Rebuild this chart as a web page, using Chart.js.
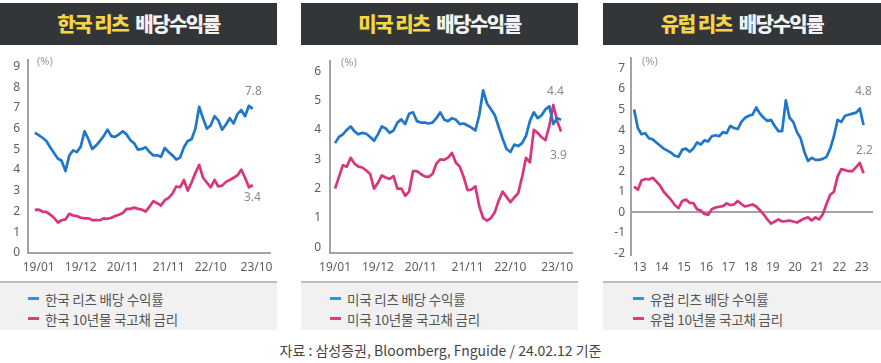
<!DOCTYPE html>
<html><head><meta charset="utf-8">
<script src="https://cdn.jsdelivr.net/npm/chart.js@4.4.1/dist/chart.umd.min.js"></script>
<style>
html,body{margin:0;padding:0;background:#fff;width:881px;height:363px;overflow:hidden;position:relative;font-family:"Noto Sans CJK KR","Noto Sans",sans-serif;}
.hdr{position:absolute;top:3px;height:42px;background:#323638;color:#f2f2f2;font-weight:900;font-size:20px;letter-spacing:-1.5px;text-align:center;line-height:42px;}
.hdr .y{color:#f3d545;margin-right:4px;}
.lg{position:absolute;top:281px;height:47px;background:#f1f1f1;border-top:2px solid #bdbdbd;}
.lgi{position:absolute;font-size:13.5px;color:#555;letter-spacing:-0.2px;white-space:nowrap;line-height:16px;}
.lgi i{position:absolute;left:-17px;top:6px;width:11px;height:3px;}
canvas{position:absolute;}
.pct{position:absolute;font-size:11px;color:#9a9a9a;font-family:"Noto Sans",sans-serif;}
.val{position:absolute;font-size:12px;color:#8a8a8a;font-family:"Noto Sans",sans-serif;}
.src{position:absolute;top:340px;left:0;width:881px;text-align:center;font-size:14px;color:#444;}
</style></head>
<body>
<div class="hdr" style="left:0;width:277px"><span class="y">한국 리츠</span> 배당수익률</div>
<div class="hdr" style="left:301px;width:277px"><span class="y">미국 리츠</span> 배당수익률</div>
<div class="hdr" style="left:603px;width:278px"><span class="y">유럽 리츠</span> 배당수익률</div>

<div class="lg" style="left:0;width:277px" id="lg1"></div>
<div class="lg" style="left:301px;width:277px" id="lg2"></div>
<div class="lg" style="left:603px;width:278px" id="lg3"></div>

<canvas id="c1" width="280" height="235" style="left:0;top:45px"></canvas>
<canvas id="c2" width="280" height="235" style="left:301px;top:45px"></canvas>
<canvas id="c3" width="278" height="235" style="left:603px;top:45px"></canvas>

<div class="pct" style="left:37px;top:53px">(%)</div>
<div class="pct" style="left:341px;top:54px">(%)</div>
<div class="pct" style="left:642px;top:53px">(%)</div>

<div class="val" style="left:245px;top:82px">7.8</div>
<div class="val" style="left:244px;top:188px">3.4</div>
<div class="val" style="left:547px;top:82px">4.4</div>
<div class="val" style="left:550px;top:146px">3.9</div>
<div class="val" style="left:855px;top:82px">4.8</div>
<div class="val" style="left:856px;top:141px">2.2</div>

<div class="src">자료 : 삼성증권, Bloomberg, Fnguide / 24.02.12 기준</div>

<script>
// ---------- DATA ----------
// Korea: monthly, first point = 2018/12 (month index 0)
const krNames = ['한국 리츠 배당 수익률', '한국 10년물 국고채 금리'];
const krReit = [5.8,5.69,5.56,5.4,5.1,4.82,4.56,4.45,3.95,4.7,4.95,4.87,5.13,5.87,5.49,5.02,5.18,5.4,5.64,5.95,5.64,5.6,5.72,5.87,5.72,5.44,5.29,4.98,5.02,5.1,4.87,4.71,4.71,4.64,5.07,4.87,4.71,4.51,4.6,5.1,5.4,5.49,6.0,7.05,6.5,6.0,6.15,6.6,6.4,5.95,6.2,6.5,6.25,6.7,6.9,6.6,7.1,6.95];
const krBond = [2.08,2.09,2.0,1.98,1.85,1.7,1.47,1.58,1.62,1.89,1.81,1.78,1.7,1.67,1.67,1.59,1.59,1.58,1.67,1.65,1.7,1.78,1.85,1.93,2.13,2.13,2.19,2.13,2.09,2.0,2.24,2.5,2.4,2.29,2.55,2.66,2.86,3.21,3.17,3.52,3.01,3.4,3.86,4.25,3.63,3.4,3.17,3.52,3.21,3.25,3.43,3.52,3.63,3.74,4.02,3.63,3.17,3.28];
const krStart = 0;
// US: monthly, first point = 2019/01 (month index 1)
const usNames = ['미국 리츠 배당 수익률', '미국 10년물 국고채 금리'];
const usReit = [3.55,3.76,3.85,4.0,4.12,3.95,3.85,3.9,3.87,3.76,3.63,3.85,4.12,4.05,3.9,3.98,4.25,4.36,4.2,4.55,4.6,4.3,4.25,4.25,4.22,4.25,4.4,4.6,4.35,4.3,4.4,4.35,4.2,4.22,4.15,4.08,3.98,4.5,5.35,4.9,4.7,4.5,4.1,3.7,3.35,3.25,3.5,3.45,3.55,3.8,4.3,4.6,4.4,4.5,4.7,4.8,4.2,4.4,4.35];
const usBond = [2.0,2.4,2.8,2.75,3.05,2.85,2.75,2.72,2.62,2.5,2.0,2.2,2.45,2.38,2.33,2.43,2.0,2.0,1.76,1.9,2.6,2.6,2.5,2.42,2.4,2.5,2.85,3.0,2.98,3.06,3.22,2.88,2.75,2.4,1.95,1.97,2.08,1.4,1.0,0.91,1.0,1.2,1.6,1.9,1.72,1.54,1.7,1.85,2.4,3.05,2.9,4.0,3.9,3.75,3.65,4.15,4.85,4.3,3.95];
const usStart = 1;
// month-index ticks for Korea / US
const monthTickPos = [1, 12, 23, 35, 46, 58];
const monthTickLabels = ['19/01', '19/12', '20/11', '21/11', '22/10', '23/10'];
// Europe: every 2 months starting 2012.75 (x in years since 2000)
const euNames = ['유럽 리츠 배당 수익률', '유럽 10년물 국고채 금리'];
const euReit = [5.0,4.1,3.8,3.85,3.6,3.55,3.4,3.25,3.1,3.0,2.9,2.75,2.7,3.05,3.1,2.95,3.1,3.4,3.3,3.5,3.45,3.7,3.75,3.7,3.9,3.85,4.2,4.1,4.05,4.4,4.6,4.7,4.75,5.1,4.8,4.6,4.45,4.5,4.2,3.95,3.95,5.45,4.6,4.4,3.9,3.6,2.95,2.5,2.65,2.55,2.55,2.6,2.7,3.1,3.7,4.5,4.4,4.7,4.75,4.8,4.85,5.05,4.25];
const euBond = [1.25,1.1,1.55,1.62,1.6,1.68,1.5,1.3,1.0,0.8,0.6,0.35,0.2,0.55,0.62,0.46,0.45,0.15,0.08,-0.08,-0.12,0.15,0.23,0.27,0.3,0.43,0.35,0.38,0.55,0.4,0.28,0.33,0.38,0.28,0.1,-0.1,-0.35,-0.55,-0.45,-0.35,-0.45,-0.43,-0.4,-0.45,-0.5,-0.4,-0.3,-0.25,-0.4,-0.25,-0.35,-0.1,0.4,0.85,1.0,1.75,2.1,2.05,2.0,2.0,2.2,2.4,1.9];
const euStart = 12.75, euStep = 1/6;
const yearTickPos = [13,14,15,16,17,18,19,20,21,22,23];
const yearTickLabels = ['13','14','15','16','17','18','19','20','21','22','23'];

const krYTicks = [0,1,2,3,4,5,6,7,8,9];
const usYTicks = [0,1,2,3,4,5,6];
const euYTicks = [-2,-1,0,1,2,3,4,5,6,7];

// ---------- STYLE ----------
const BLUE = '#1f77c9', PINK = '#d8357c';
const AXIS = '#a3a3a3';
const tickFont = {family: '"Noto Sans", sans-serif', size: 12};
const TICKCOL = '#5e5e5e';

function pts(vals, start, step) {
  return vals.map((v, i) => ({x: start + i * step, y: v}));
}

function panel(id, o) {
  return new Chart(document.getElementById(id), {
    type: 'line',
    data: {
      datasets: [
        {label: o.names[0], data: pts(o.s1, o.start, o.step), borderColor: BLUE, borderWidth: 2.7, pointRadius: 0, tension: 0, borderJoinStyle: 'round'},
        {label: o.names[1], data: pts(o.s2, o.start, o.step), borderColor: PINK, borderWidth: 2.7, pointRadius: 0, tension: 0, borderJoinStyle: 'round'}
      ]
    },
    options: {
      responsive: false, animation: false, devicePixelRatio: 1,
      layout: {padding: {top: o.padTop, right: o.padRight, left: 0, bottom: 0}},
      plugins: {legend: {display: false}, tooltip: {enabled: false}},
      scales: {
        x: {
          type: 'linear', min: o.xmin, max: o.xmax,
          grid: {display: false, drawTicks: false},
          border: {display: o.xBorder, color: AXIS, width: 2},
          afterBuildTicks: (ax) => { ax.ticks = o.xTickPos.map(v => ({value: v})); },
          afterFit: (ax) => { ax.height = o.xHeight; },
          ticks: {autoSkip: false, maxRotation: 0, padding: o.xPad, color: TICKCOL, font: tickFont,
                  callback: (v) => o.xTickLabels[o.xTickPos.indexOf(v)]}
        },
        y: {
          min: o.ymin, max: o.ymax,
          grid: o.zeroLine ? {display: true, drawTicks: false, lineWidth: 2,
                  color: (c) => (c.tick && c.tick.value === 0) ? '#a3a3a3' : 'rgba(0,0,0,0)'}
                : {display: false, drawTicks: false},
          border: {display: true, color: AXIS, width: 2},
          afterBuildTicks: (ax) => { ax.ticks = o.yTicks.map(v => ({value: v})); },
          afterFit: (ax) => { ax.width = o.yWidth; },
          ticks: {padding: o.yPad, color: TICKCOL, font: tickFont, callback: (v) => String(v)}
        }
      }
    }
  });
}

const charts = [
  panel('c1', {names: krNames, s1: krReit, s2: krBond, start: krStart, step: 1,
    xmin: -1.8, xmax: 61.6, xTickPos: monthTickPos, xTickLabels: monthTickLabels,
    ymin: 0, ymax: 9.3, yTicks: krYTicks, padTop: 6, padRight: 9, yWidth: 28, xHeight: 27,
    xPad: 7, yPad: 8, xBorder: true, zeroLine: false}),
  panel('c2', {names: usNames, s1: usReit, s2: usBond, start: usStart, step: 1,
    xmin: -0.3, xmax: 61.8, xTickPos: monthTickPos, xTickLabels: monthTickLabels,
    ymin: -0.19, ymax: 6.34, yTicks: usYTicks, padTop: 7, padRight: 9, yWidth: 29, xHeight: 27,
    xPad: 7, yPad: 9, xBorder: true, zeroLine: false}),
  panel('c3', {names: euNames, s1: euReit, s2: euBond, start: euStart, step: euStep,
    xmin: 12.61, xmax: 23.51, xTickPos: yearTickPos, xTickLabels: yearTickLabels,
    ymin: -2.08, ymax: 7.5, yTicks: euYTicks, padTop: 5, padRight: 8, yWidth: 28, xHeight: 25,
    xPad: 5, yPad: 6, xBorder: false, zeroLine: true})
];

// HTML legends built from the datasets
const legendPos = [{id: 'lg1', left: 45}, {id: 'lg2', left: 46}, {id: 'lg3', left: 47}];
charts.forEach((ch, i) => {
  const box = document.getElementById(legendPos[i].id);
  ch.data.datasets.forEach((ds, j) => {
    const d = document.createElement('div');
    d.className = 'lgi';
    d.style.left = legendPos[i].left + 'px';
    d.style.top = (8 + j * 20) + 'px';
    d.innerHTML = '<i style="background:' + (j === 0 ? '#3a8fd8' : '#d8407f') + '"></i>' + ds.label;
    box.appendChild(d);
  });
});
</script>
</body></html>
